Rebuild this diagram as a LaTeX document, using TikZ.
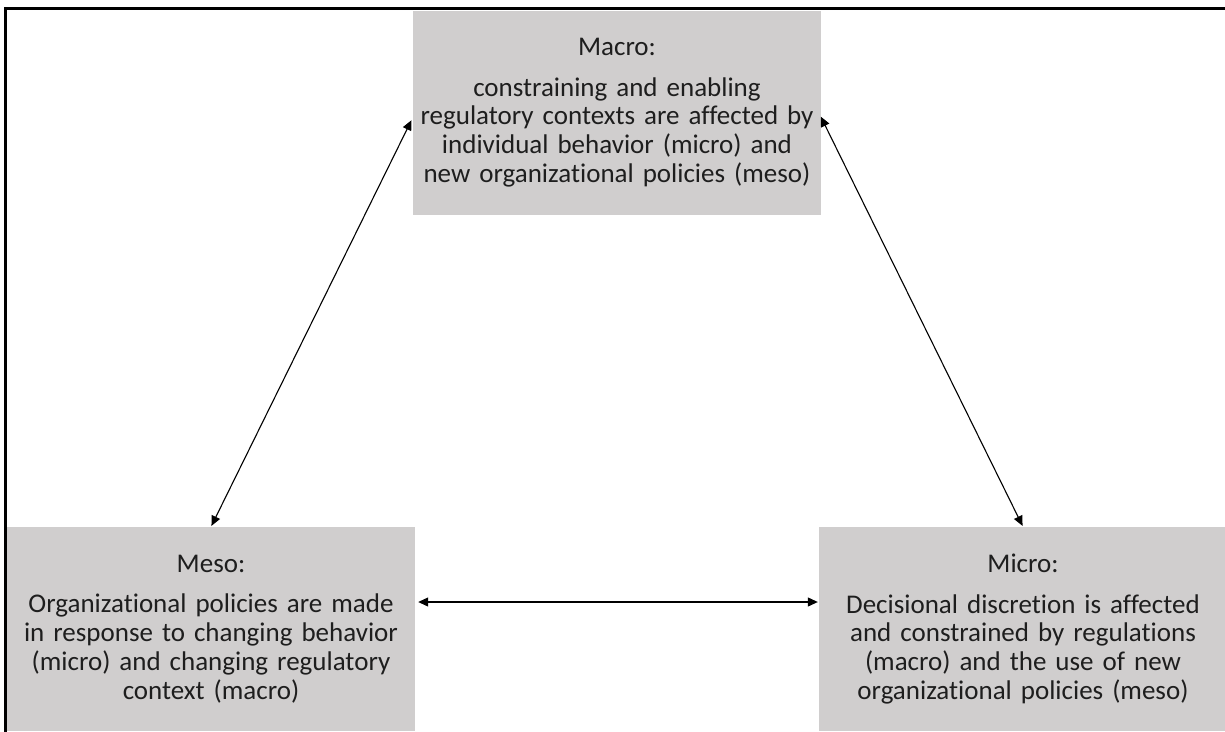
\documentclass[tikz,border=0pt]{standalone}
\usepackage{fontspec}
\setmainfont{Carlito}[RawFeature={-liga;-clig;-dlig}]
\usetikzlibrary{arrows.meta}
\definecolor{boxgray}{RGB}{208,206,206}
\definecolor{txt}{RGB}{30,30,30}
\tikzset{
  levelbox/.style={fill=boxgray, draw=none, minimum width=408pt, minimum height=204pt,
    text width=400pt, align=center, inner sep=0pt, text=txt,
    font=\fontsize{27}{28.8}\selectfont},
  biarrow/.style={line width=1.1pt, {Triangle[length=10pt,width=9pt]}-{Triangle[length=10pt,width=9pt]}},
  frameline/.style={line width=3.5pt, miter limit=10}
}
\begin{document}
\begin{tikzpicture}[x=1pt,y=1pt]
\useasboundingbox (0,0) rectangle (1225,-731);
\fill[white] (0,0) rectangle (1225,-731);
\draw[frameline] (5.3,-735) -- (5.3,-8.7) -- (1230,-8.7);
\node[levelbox] (macro) at (617,-112.5) {Macro:\\[12pt]
constraining and enabling\\
regulatory contexts are affected by\\
individual behavior (micro) and\\
new organizational policies (meso)};
\node[levelbox] (meso) at (211,-629) {Meso:\\[12pt]
Organizational policies are made\\
in response to changing behavior\\
(micro) and changing regulatory\\
context (macro)};
\node[levelbox] (micro) at (1023,-629) {Micro:\\[12pt]
Decisional discretion is affected\\
and constrained by regulations\\
(macro) and the use of new\\
organizational policies (meso)};
\draw[biarrow, shorten <=3pt, shorten >=1pt] ([yshift=-5pt]macro.west) -- (meso.north);
\draw[biarrow, shorten <=-1pt, shorten >=1pt] ([yshift=-5pt]macro.east) -- (micro.north);
\draw[biarrow, shorten <=3pt, shorten >=1pt] ([yshift=27pt]meso.east) -- ([yshift=27pt]micro.west);
\end{tikzpicture}
\end{document}
